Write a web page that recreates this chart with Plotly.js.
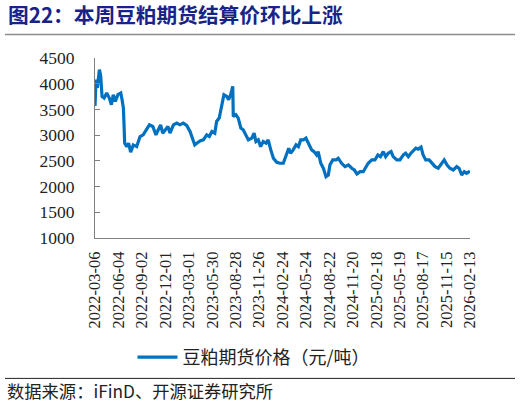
<!DOCTYPE html>
<html>
<head>
<meta charset="utf-8">
<script src="https://cdn.plot.ly/plotly-3.0.1.min.js"></script>
<style>
  html, body { margin: 0; padding: 0; background: #fff; }
  #plot { width: 520px; height: 405px; }
</style>
</head>
<body>
<div id="plot"></div>
<script>
// 豆粕期货结算价 (元/吨)
var dates = [
  "2022-03-06","2022-03-10","2022-03-15","2022-03-23","2022-03-28","2022-04-02","2022-04-10","2022-04-20",
  "2022-04-30","2022-05-08","2022-05-15","2022-05-23","2022-06-02","2022-06-13","2022-06-18","2022-06-23",
  "2022-06-25","2022-06-28","2022-07-06","2022-07-13","2022-07-21","2022-07-31","2022-08-13","2022-08-26",
  "2022-09-07","2022-09-18","2022-10-01","2022-10-14","2022-10-26","2022-11-04","2022-11-13","2022-11-21",
  "2022-12-01","2022-12-11","2022-12-19","2023-01-01","2023-01-14","2023-01-26","2023-02-08","2023-02-21",
  "2023-03-06","2023-03-13","2023-03-24","2023-04-01","2023-04-13","2023-04-26","2023-05-09","2023-05-19",
  "2023-05-29","2023-06-09","2023-06-16","2023-06-26","2023-07-06","2023-07-14","2023-07-25","2023-08-01",
  "2023-08-09","2023-08-17","2023-08-19","2023-08-29","2023-09-07","2023-09-17","2023-09-26","2023-10-07",
  "2023-10-16","2023-10-29","2023-11-07","2023-11-14","2023-11-23","2023-12-02","2023-12-12","2023-12-23",
  "2023-12-31","2024-01-10","2024-01-20","2024-02-02","2024-02-14","2024-02-27","2024-03-08","2024-03-19",
  "2024-03-26","2024-04-05","2024-04-16","2024-04-25","2024-05-04","2024-05-14","2024-05-24","2024-06-04",
  "2024-06-15","2024-06-24","2024-07-04","2024-07-10","2024-07-20","2024-07-30","2024-08-09","2024-08-18",
  "2024-08-24","2024-09-04","2024-09-16","2024-09-25","2024-10-08","2024-10-21","2024-11-03","2024-11-16",
  "2024-11-26","2024-12-06","2024-12-18","2024-12-30","2025-01-09","2025-01-18","2025-02-01","2025-02-13",
  "2025-02-24","2025-03-06","2025-03-17","2025-03-26","2025-04-05","2025-04-16","2025-04-24","2025-05-08",
  "2025-05-20","2025-06-02","2025-06-11","2025-06-21","2025-07-01","2025-07-12","2025-07-20","2025-07-29",
  "2025-08-09","2025-08-17","2025-08-27","2025-09-09","2025-09-19","2025-10-02","2025-10-14","2025-10-27",
  "2025-11-06","2025-11-17","2025-11-28","2025-12-11","2025-12-24","2026-01-02","2026-01-12","2026-01-22",
  "2026-01-31","2026-02-10","2026-02-13"
];
var prices = [
  3570,4080,3918,4275,4145,3754,3722,3820,
  3722,3590,3787,3656,3787,3820,3690,3527,
  3266,2844,2777,2844,2668,2810,2777,2973,
  3006,3104,3201,3168,3006,3104,3201,3039,
  3104,3168,3039,3201,3234,3201,3234,3188,
  3071,2973,2810,2844,2889,2908,3006,2973,
  3071,3039,3266,3332,3559,3787,3754,3690,
  3787,3950,3364,3397,3332,3137,3104,3006,
  2908,2941,3039,2875,2908,2777,2875,2844,
  2908,2713,2551,2473,2453,2453,2582,2746,
  2649,2713,2810,2777,2908,2908,2941,2810,
  2713,2680,2615,2680,2453,2356,2192,2225,
  2420,2518,2518,2551,2453,2387,2420,2356,
  2322,2244,2289,2289,2387,2453,2518,2518,
  2615,2582,2680,2582,2649,2680,2582,2518,
  2518,2615,2649,2582,2649,2713,2746,2727,
  2766,2615,2518,2518,2453,2387,2356,2453,
  2518,2420,2356,2322,2387,2356,2225,2289,
  2257,2289,2300
];
var seriesName = "豆粕期货价格（元/吨）";
var yTicks = [1000, 1500, 2000, 2500, 3000, 3500, 4000, 4500];
var xTicks = ["2022-03-06","2022-06-04","2022-09-02","2022-12-01","2023-03-01","2023-05-30",
  "2023-08-28","2023-11-26","2024-02-24","2024-05-24","2024-08-22","2024-11-20","2025-02-18",
  "2025-05-19","2025-08-17","2025-11-15","2026-02-13"];

var serif = "Liberation Serif";
var cjk = "Noto Sans CJK SC";

var trace = {
  x: dates,
  y: prices,
  name: seriesName,
  type: "scatter",
  mode: "lines",
  line: { color: "#0070C0", width: 3.2 }
};

var layout = {
  width: 520,
  height: 405,
  margin: { l: 95, r: 50, t: 58, b: 167 },
  paper_bgcolor: "#fff",
  plot_bgcolor: "#fff",
  showlegend: true,
  legend: {
    orientation: "h",
    x: 0.1, xanchor: "left",
    y: -0.663, yanchor: "middle",
    font: { family: cjk, size: 18, color: "#222" },
    itemwidth: 40
  },
  xaxis: {
    type: "date",
    range: ["2022-03-06", "2026-02-13"],
    tickmode: "array",
    tickvals: xTicks,
    ticktext: xTicks,
    tickangle: -90,
    ticks: "",
    showgrid: false,
    zeroline: false,
    showline: true,
    linecolor: "#808080",
    linewidth: 1,
    tickfont: { family: serif, size: 16.5, color: "#222" },
    ticklabelstandoff: 6
  },
  yaxis: {
    range: [1000, 4500],
    tickmode: "array",
    tickvals: yTicks,
    ticks: "inside",
    ticklen: 5,
    tickcolor: "#808080",
    showgrid: false,
    zeroline: false,
    showline: true,
    linecolor: "#808080",
    linewidth: 1,
    tickfont: { family: serif, size: 17.5, color: "#222" },
    ticklabelstandoff: 16
  },
  shapes: [
    { type: "line", xref: "paper", yref: "paper", x0: -0.24, x1: 1.12, y0: 1.131, y1: 1.131,
      line: { color: "#8c8c8c", width: 1.5 } },
    { type: "line", xref: "paper", yref: "paper", x0: -0.24, x1: 1.12, y0: -0.78, y1: -0.78,
      line: { color: "#222", width: 1 } }
  ],
  annotations: [
    { text: "<b>图22：本周豆粕期货结算价环比上涨</b>", xref: "paper", yref: "paper",
      x: -0.237, y: 1.243, xanchor: "left", yanchor: "middle", showarrow: false,
      font: { family: cjk, size: 20.7, color: "#17238a" } },
    { text: "数据来源：iFinD、开源证券研究所", xref: "paper", yref: "paper",
      x: -0.24, y: -0.847, xanchor: "left", yanchor: "middle", showarrow: false,
      font: { family: cjk, size: 17.3, color: "#222" } }
  ]
};

Plotly.newPlot("plot", [trace], layout, { displayModeBar: false, staticPlot: true });
</script>
</body>
</html>
